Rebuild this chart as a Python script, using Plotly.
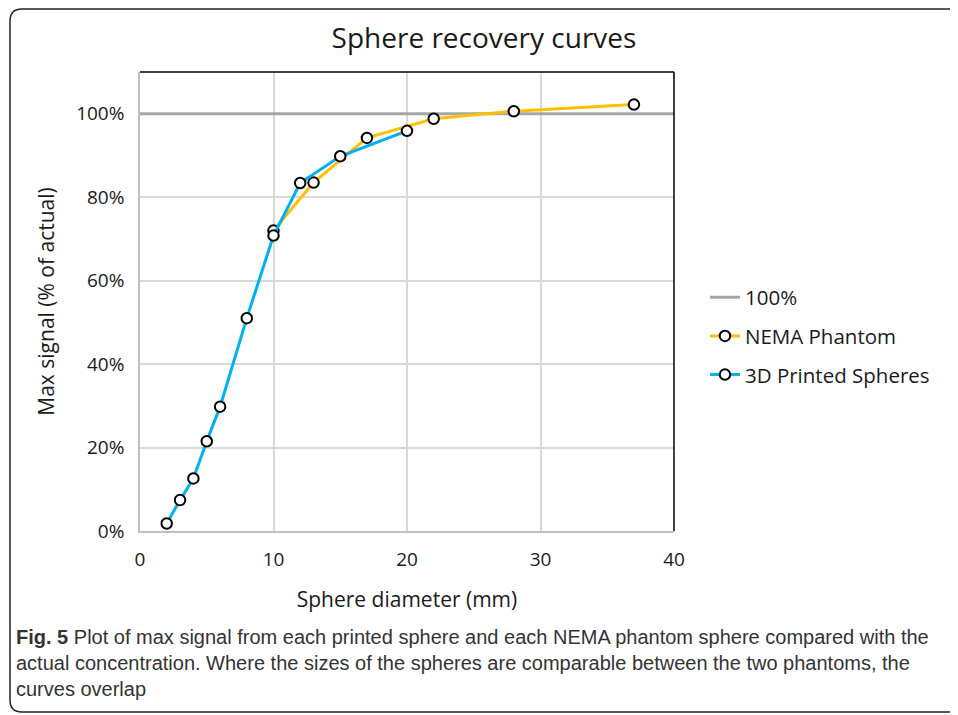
import plotly.graph_objects as go

# Data
ref_x = [0, 40]
ref_y = [100, 100]

nema_d = [10, 13, 17, 22, 28, 37]
nema_sig = [72.0, 83.5, 94.2, 98.8, 100.6, 102.2]

printed_d = [2, 3, 4, 5, 6, 8, 10, 12, 15, 20]
printed_sig = [1.8, 7.4, 12.6, 21.5, 29.8, 51.0, 70.8, 83.4, 89.8, 95.9]

x_ticks = [0, 10, 20, 30, 40]
y_ticks = [0, 20, 40, 60, 80, 100]
y_tick_labels = ["0%", "20%", "40%", "60%", "80%", "100%"]

FONT = "Open Sans, Noto Sans, sans-serif"
TXT = "#1a1a1a"
OFF = 8  # page body margin

# plot area in screen pixels
pl, pr, pt, pb = 140, 674, 72, 531
W, H = 958, 715

marker = dict(symbol="circle", size=10.5, color="white", line=dict(color="black", width=2))

fig = go.Figure()
fig.add_trace(go.Scatter(x=ref_x, y=ref_y, mode="lines", name="100%",
                         line=dict(color="#A6A6A6", width=3), legendgroup="a"))
fig.add_trace(go.Scatter(x=nema_d, y=nema_sig, mode="lines+markers", name="NEMA Phantom",
                         line=dict(color="#FFC000", width=3), marker=marker, legendgroup="b"))
fig.add_trace(go.Scatter(x=printed_d, y=printed_sig, mode="lines+markers", name="3D Printed Spheres",
                         line=dict(color="#00B0F0", width=3), marker=marker, legendgroup="c"))

fig.update_layout(
    width=W, height=H,
    margin=dict(l=pl - OFF, r=W - (pr - OFF), t=pt - OFF, b=H - (pb - OFF)),
    paper_bgcolor="white", plot_bgcolor="white",
    font=dict(family=FONT, color=TXT, size=18),
    title=dict(text="Sphere recovery curves", x=(484 - OFF) / W, xanchor="center",
               y=1 - (38 - OFF) / H, yanchor="middle", font=dict(size=28, color=TXT)),
    showlegend=True,
    legend=dict(x=1.058, xanchor="left", y=0.425, yanchor="middle", tracegroupgap=9,
                font=dict(size=20.5, color=TXT), bgcolor="rgba(0,0,0,0)"),
    xaxis=dict(range=[0, 40], tickvals=x_ticks, showgrid=True, gridcolor="#D9D9D9", gridwidth=1.5,
               zeroline=False, showline=True, linecolor="#BFBFBF", linewidth=1.5,
               ticks="", ticklabelstandoff=10,
               title=dict(text="Sphere diameter (mm)", font=dict(size=21, color=TXT), standoff=22),
               tickfont=dict(size=19, color=TXT)),
    yaxis=dict(range=[0, 110], tickvals=y_ticks, ticktext=y_tick_labels, showgrid=True,
               gridcolor="#D9D9D9", gridwidth=1.5, zeroline=False, showline=True,
               linecolor="#BFBFBF", linewidth=1.5, ticks="", ticklabelstandoff=10,
               title=dict(text="Max signal (% of actual)", font=dict(size=21, color=TXT), standoff=16),
               tickfont=dict(size=19, color=TXT)),
)

# plot-area top and right black border
fig.add_shape(type="line", xref="paper", yref="paper", x0=0, x1=1, y0=1, y1=1,
              line=dict(color="black", width=1.5))
fig.add_shape(type="line", xref="paper", yref="paper", x0=1, x1=1, y0=0, y1=1,
              line=dict(color="black", width=1.5))

def px(x):
    return (x - pl) / (pr - pl)
def py(y):
    return (pb - y) / (pb - pt)

# outer rounded frame (screen pixel coords)
L, T, R, B, rr = 10, 9, 975, 712, 12
path = (f"M {px(L)},{py(T+rr)} Q {px(L)},{py(T)} {px(L+rr)},{py(T)} L {px(R-rr)},{py(T)} "
        f"Q {px(R)},{py(T)} {px(R)},{py(T+rr)} L {px(R)},{py(B-rr)} Q {px(R)},{py(B)} {px(R-rr)},{py(B)} "
        f"L {px(L+rr)},{py(B)} Q {px(L)},{py(B)} {px(L)},{py(B-rr)} Z")
fig.add_shape(type="path", xref="paper", yref="paper", path=path,
              line=dict(color="#222222", width=1.5), layer="below")

caption = ("<b>Fig. 5</b> Plot of max signal from each printed sphere and each NEMA phantom sphere compared with the<br>"
           "actual concentration. Where the sizes of the spheres are comparable between the two phantoms, the<br>"
           "curves overlap")
fig.add_annotation(text=caption, xref="paper", yref="paper", x=px(14), y=py(624), xanchor="left",
                   yanchor="top", align="left", showarrow=False,
                   font=dict(family="Liberation Sans, sans-serif", size=20, color="#333333"))

fig.write_html("out.html")
